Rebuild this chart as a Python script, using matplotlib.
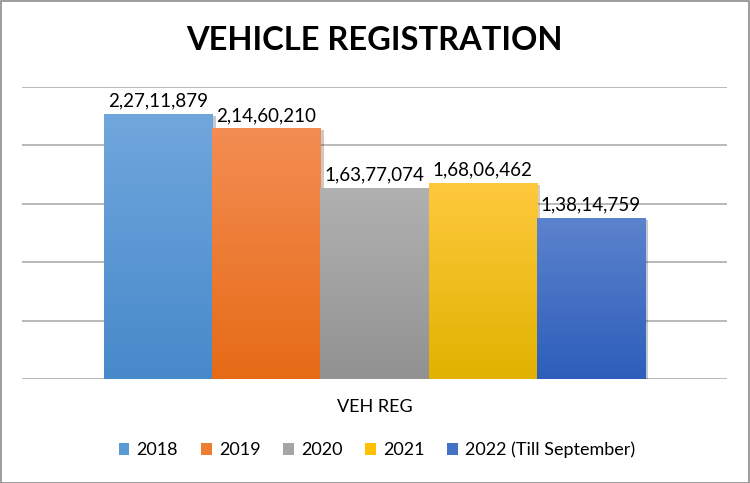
import matplotlib
matplotlib.use("Agg")
import matplotlib.pyplot as plt
import numpy as np
from matplotlib.colors import LinearSegmentedColormap
from matplotlib.patches import Rectangle
import matplotlib.patheffects as pe

categories = ["VEH REG"]
series = ["2018", "2019", "2020", "2021", "2022 (Till September)"]
values = [22711879, 21460210, 16377074, 16806462, 13814759]
top_colors = ["#70A7DD", "#F38D53", "#B1B1B1", "#FFC93D", "#5C83CD"]
bottom_colors = ["#4789CA", "#E66B16", "#929292", "#E1B200", "#2D5EBB"]
mid_colors = ["#5B9BD5", "#ED7D31", "#A5A5A5", "#FFC000", "#4472C4"]

def indian(n):
    s = str(int(n))
    if len(s) <= 3:
        return s
    head, tail = s[:-3], s[-3:]
    parts = []
    while len(head) > 2:
        parts.insert(0, head[-2:])
        head = head[:-2]
    if head:
        parts.insert(0, head)
    return ",".join(parts + [tail])

FONT = ["Lato", "DejaVu Sans"]
plt.rcParams["font.family"] = FONT

W, H = 750, 483
fig = plt.figure(figsize=(W / 100, H / 100), dpi=100)
fig.patches.append(Rectangle((0.5 / W, 0.5 / H), 1 - 1.5 / W, 1 - 1.5 / H, transform=fig.transFigure,
                             fill=False, edgecolor="#8C8C8C", linewidth=1.2))

ax = fig.add_axes([22 / W, (H - 379) / H, 705 / W, (379 - 87) / H])
n = len(series)
offsets = np.arange(n) - (n - 1) / 2
ax.set_yticks(np.arange(0, 25_000_001, 5_000_000))
ax.yaxis.grid(True, color="#A6A6A6", linewidth=1.1)
ax.set_axisbelow(True)
for s in ax.spines.values():
    s.set_visible(False)
ax.tick_params(left=False, bottom=False, labelleft=False, labelbottom=False)

for i in range(n):
    bc = ax.bar(offsets[i], values[i], width=1.0, color=mid_colors[i], label=series[i], zorder=2,
                path_effects=[pe.SimplePatchShadow(offset=(2.5, -1.5), alpha=0.25), pe.Normal()])
    rect = bc.patches[0]
    x0, w, h = rect.get_x(), rect.get_width(), rect.get_height()
    cmap = LinearSegmentedColormap.from_list("g%d" % i, [bottom_colors[i], top_colors[i]])
    grad = np.linspace(0, 1, 256).reshape(-1, 1)
    im = ax.imshow(grad, extent=[x0, x0 + w, 0, h], origin="lower", aspect="auto", cmap=cmap, zorder=3)
    im.set_clip_path(rect)
    ax.annotate(indian(values[i]), (offsets[i], values[i]), xytext=(0, 3), textcoords="offset points",
                ha="center", va="bottom", fontsize=13.5, color="#000000", zorder=4)

ax.set_xlim(-3.258, 3.258)
ax.set_ylim(0, 25_000_000)

fig.text(374.5 / W, 1 - 40 / H, "VEHICLE REGISTRATION", ha="center", va="center",
         fontsize=23.5, fontweight="bold")
fig.text(374.5 / W, 1 - 407 / H, categories[0], ha="center", va="center", fontsize=13, color="#000000")

leg = fig.legend(loc="center", bbox_to_anchor=(377 / W, 1 - 450 / H), ncol=5, frameon=False,
                 fontsize=13, handlelength=0.6, handleheight=0.6, handletextpad=0.4, columnspacing=1.25)
for hd in leg.legend_handles:
    hd.set_path_effects([])

fig.savefig("out.png", dpi=100)
